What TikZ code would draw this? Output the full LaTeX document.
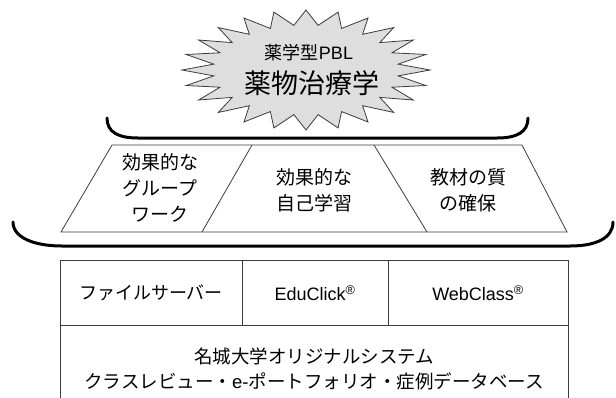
\documentclass[tikz,border=0pt]{standalone}
\usepackage{fontspec}
\setmainfont{Liberation Sans}
\newfontfamily\cjk{Noto Sans CJK JP}
\definecolor{starfill}{RGB}{222,222,222}
\definecolor{lineg}{RGB}{60,60,60}
\tikzset{
  starshape/.style={draw=lineg, line width=0.8pt, fill=starfill, line join=miter},
  bracestyle/.style={draw=black, line width=3pt, line cap=round},
  trapstyle/.style={draw=lineg, line width=0.8pt},
  tblstyle/.style={draw=lineg, line width=0.9pt},
  midtext/.style={align=center, inner sep=0pt, font=\fontsize{19}{26}\selectfont\cjk},
  celltext/.style={align=center, inner sep=0pt, font=\fontsize{18}{22}\selectfont},
  systext/.style={align=center, inner sep=0pt, font=\fontsize{18.5}{23}\selectfont}
}
\begin{document}
\begin{tikzpicture}[x=1pt,y=-1pt]
\useasboundingbox (0,0) rectangle (616,397);
% star
\draw[starshape] (306,10)
  \foreach \k in {0,...,23} {
    -- ({306+93*cos(82.5-\k*15)},{70-45*sin(82.5-\k*15)})
    -- ({306+124*cos(75-\k*15)},{70-60*sin(75-\k*15)})
  } -- cycle;
\node[inner sep=0pt, font=\fontsize{18}{18}\selectfont] (s1) at (309,53) {{\cjk 薬学型}PBL};
\node[inner sep=0pt, font=\fontsize{27}{27}\selectfont\cjk] (s2) at (312,83) {薬物治療学};
% upper brace
\draw[bracestyle] (107,118) .. controls (107,132) and (118,138) .. (138,138)
  -- (497,138) .. controls (517,138) and (528,132) .. (528,118);
% trapezoid band
\draw[trapstyle] (112,145) -- (522,145) -- (567,232) -- (61,232) -- cycle;
\draw[trapstyle] (252,145) -- (202,232);
\draw[trapstyle] (374,145) -- (427,232);
\node[midtext] (t1) at (160,188) {効果的な\\グループ\\ワーク};
\node[midtext] (t2) at (314,190) {効果的な\\自己学習};
\node[midtext] (t3) at (468,190) {教材の質\\の確保};
% lower brace
\draw[bracestyle] (13,222) .. controls (13,238) and (35,246) .. (62,246)
  -- (570,246) .. controls (596,246) and (613,238) .. (613,222);
% table
\draw[tblstyle] (60,400) -- (60,260) -- (568,260) -- (568,400);
\draw[tblstyle] (60,325) -- (568,325);
\draw[tblstyle] (242,260) -- (242,325);
\draw[tblstyle] (388,260) -- (388,325);
\node[celltext, font=\fontsize{18}{22}\selectfont\cjk] (c1) at (151,293) {ファイルサーバー};
\node[celltext] (c2) at (315,293) {EduClick\textsuperscript{®}};
\node[celltext] (c3) at (478,293) {WebClass\textsuperscript{®}};
\node[systext, font=\fontsize{18.5}{23}\selectfont\cjk] (d1) at (314,356) {名城大学オリジナルシステム};
\node[systext] (d2) at (314,381) {{\cjk クラスレビュー・}e-{\cjk ポートフォリオ・症例データベース}};
\end{tikzpicture}
\end{document}
